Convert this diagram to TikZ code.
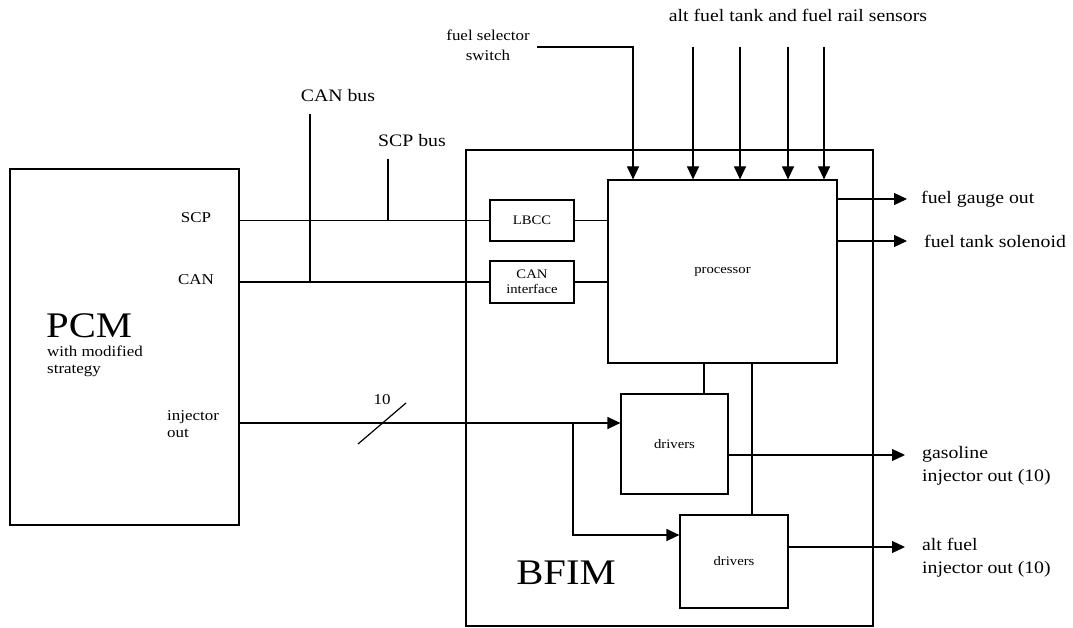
\documentclass[tikz,border=0pt]{standalone}
\usepackage{fontspec}
\setmainfont[FakeStretch=1.13]{Liberation Serif}
\usetikzlibrary{arrows.meta}
\begin{document}
\begin{tikzpicture}[x=1pt,y=-1pt,
  box/.style={draw, line width=1.2pt, inner sep=0pt},
  bigbox/.style={draw, line width=2.6pt, inner sep=0pt},
  wire/.style={line width=1.2pt},
  arr/.style={line width=1.2pt, -{Triangle[length=13pt,width=12pt]}},
  lab/.style={inner sep=0pt, font=\fontsize{17.5}{23}\selectfont},
  mid/.style={inner sep=0pt, font=\fontsize{15}{18}\selectfont},
  small/.style={inner sep=0pt, font=\fontsize{13}{15}\selectfont},
  big/.style={inner sep=0pt, font=\fontsize{36}{36}\selectfont}]
\useasboundingbox (0,0) rectangle (1073,628);

% main boxes
\node[bigbox, minimum width=229pt, minimum height=356pt] (pcm) at (124.5,347) {};
\node[bigbox, minimum width=407pt, minimum height=476pt] (bfim) at (669.5,388) {};
\node[box, minimum width=229pt, minimum height=183pt, small] (proc) at (722.5,271.5) {processor};
\node[box, minimum width=84pt, minimum height=41pt, small] (lbcc) at (532,220.5) {LBCC};
\node[box, minimum width=84pt, minimum height=42pt, small, align=center] (canif) at (532,282) {CAN\\interface};
\node[box, minimum width=107pt, minimum height=100pt, small] (d1) at (674.5,444) {drivers};
\node[box, minimum width=108pt, minimum height=93pt, small] (d2) at (734,561.5) {drivers};

% PCM texts
\node[mid] (scpl) at (196,218) {SCP};
\node[mid] (canl) at (196,280) {CAN};
\node[big, anchor=base west] (pcmt) at (46,337) {PCM};
\node[mid, anchor=north west, align=left, font=\fontsize{15}{17}\selectfont] (pcms) at (47,346) {with modified\\strategy};
\node[mid, anchor=west, align=left, font=\fontsize{15}{17}\selectfont] (injl) at (167,424) {injector\\out};
\node[big] (bfimt) at (566,573) {BFIM};

% bus labels
\node[lab] (canbusl) at (338,96) {CAN bus};
\node[lab] (scpbusl) at (412,141) {SCP bus};
\node[mid, align=center, font=\fontsize{15}{20}\selectfont] (fsl) at (488,45) {fuel selector\\switch};
\node[lab] (sensl) at (798,15) {alt fuel tank and fuel rail sensors};

% output labels
\node[lab, anchor=west] (fgo) at (921,199) {fuel gauge out};
\node[lab, anchor=west] (fts) at (924,241) {fuel tank solenoid};
\node[lab, anchor=west, align=left] (gas) at (922,466) {gasoline\\injector out (10)};
\node[lab, anchor=west, align=left] (alt) at (922,558) {alt fuel\\injector out (10)};
\node[mid] (ten) at (382,400) {10};

% coordinates
\coordinate (canbus) at (310,114);
\coordinate (scpbus) at (388,159);
\coordinate (injL) at (239,423);
\coordinate (br) at (573,423);
\coordinate (br2) at (573,535);
\coordinate (p1) at (704,0);
\coordinate (p2) at (752,0);
\coordinate (o1) at (907,199);
\coordinate (o2) at (907,241);
\coordinate (o3) at (905,455);
\coordinate (o4) at (905,547);
\coordinate (fs) at (537,47);
\coordinate (s0) at (633,47);
\coordinate (s1) at (693,47);
\coordinate (s2) at (740,47);
\coordinate (s3) at (788,47);
\coordinate (s4) at (824,47);
\coordinate (sl1) at (358,444);
\coordinate (sl2) at (406,403);

% left wiring
\draw[wire] (lbcc.west -| pcm.east) -- (lbcc.west);
\draw[wire] (canif.west -| pcm.east) -- (canif.west);
\draw[wire] (canbus) -- (canbus |- canif.west);
\draw[wire] (scpbus) -- (scpbus |- lbcc.west);
\draw[wire] (lbcc.east) -- (lbcc.east -| proc.west);
\draw[wire] (canif.east) -- (canif.east -| proc.west);

% injector lines
\draw[arr] (injL) -- (injL -| d1.west);
\draw[arr] (br) -- (br2) -- (br2 -| d2.west);
\draw[wire] (sl1) -- (sl2);

% processor to drivers
\draw[wire] (p1 |- proc.south) -- (p1 |- d1.north);
\draw[wire] (p2 |- proc.south) -- (p2 |- d2.north);

% outputs
\draw[arr] (o1 -| proc.east) -- (o1);
\draw[arr] (o2 -| proc.east) -- (o2);
\draw[arr] (o3 -| d1.east) -- (o3);
\draw[arr] (o4 -| d2.east) -- (o4);

% inputs
\draw[arr] (fs) -- (s0) -- (s0 |- proc.north);
\draw[arr] (s1) -- (s1 |- proc.north);
\draw[arr] (s2) -- (s2 |- proc.north);
\draw[arr] (s3) -- (s3 |- proc.north);
\draw[arr] (s4) -- (s4 |- proc.north);
\end{tikzpicture}
\end{document}
